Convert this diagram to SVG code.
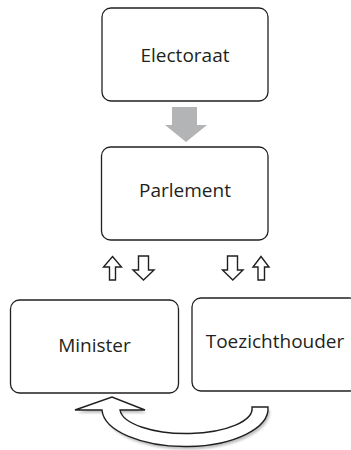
<svg xmlns="http://www.w3.org/2000/svg" width="351" height="450" viewBox="0 0 351 450">
<style>
.box{fill:#ffffff;stroke:#231f20;stroke-width:1.3}
.lbl{font-family:"Open Sans","Noto Sans","Liberation Sans",sans-serif;font-size:19px;fill:#231f20;text-anchor:middle}
.outl{fill:#ffffff;stroke:#231f20;stroke-width:1.4;stroke-linejoin:miter}
</style>
<defs>
<filter id="sh" x="-10%" y="-10%" width="130%" height="140%"><feGaussianBlur stdDeviation="1.2"/></filter>
</defs>
<rect width="351" height="450" fill="#ffffff"/>
<g id="electoraat"><rect class="box" x="102" y="8" width="166" height="93" rx="9"/><text class="lbl" x="185" y="62">Electoraat</text></g>
<g id="parlement"><rect class="box" x="101.5" y="147" width="166.5" height="93" rx="9"/><text class="lbl" x="185" y="197">Parlement</text></g>
<g id="minister"><rect class="box" x="10.5" y="300" width="168" height="93" rx="9"/><text class="lbl" x="94.5" y="352">Minister</text></g>
<g id="toezichthouder"><rect class="box" x="192" y="298" width="166" height="93" rx="9"/><text class="lbl" x="275" y="348">Toezichthouder</text></g>
<g id="connectors">
<polygon points="172,107 197,107 197,125 207,125 186,142 165,125 172,125" fill="#b3b4b6"/>
<polygon class="outl" points="112.5,256.5 121.5,267 115.5,267 115.5,280 109.5,280 109.5,267 103.5,267"/>
<polygon class="outl" points="138.5,256 148.5,256 148.5,270 154,270 143.5,280 133,270 138.5,270"/>
<polygon class="outl" points="227.5,256 237.5,256 237.5,270 243,270 232.8,280 222.5,270 227.5,270"/>
<polygon class="outl" points="261,256.5 269,267 264.5,267 264.5,280 258,280 258,267 253,267"/>
<path d="M268,407 A83,38 0 0 1 102,410 L75,410 L112,397 L145,410 L120,410 A66,25 0 0 0 252,407 Z" fill="#9a9a9a" opacity="0.6" transform="translate(2,3)" filter="url(#sh)"/>
<path class="outl" stroke-width="1.8" d="M268,407 A83,38 0 0 1 102,410 L75,410 L112,397 L145,410 L120,410 A66,25 0 0 0 252,407 Z"/>
</g>
</svg>
